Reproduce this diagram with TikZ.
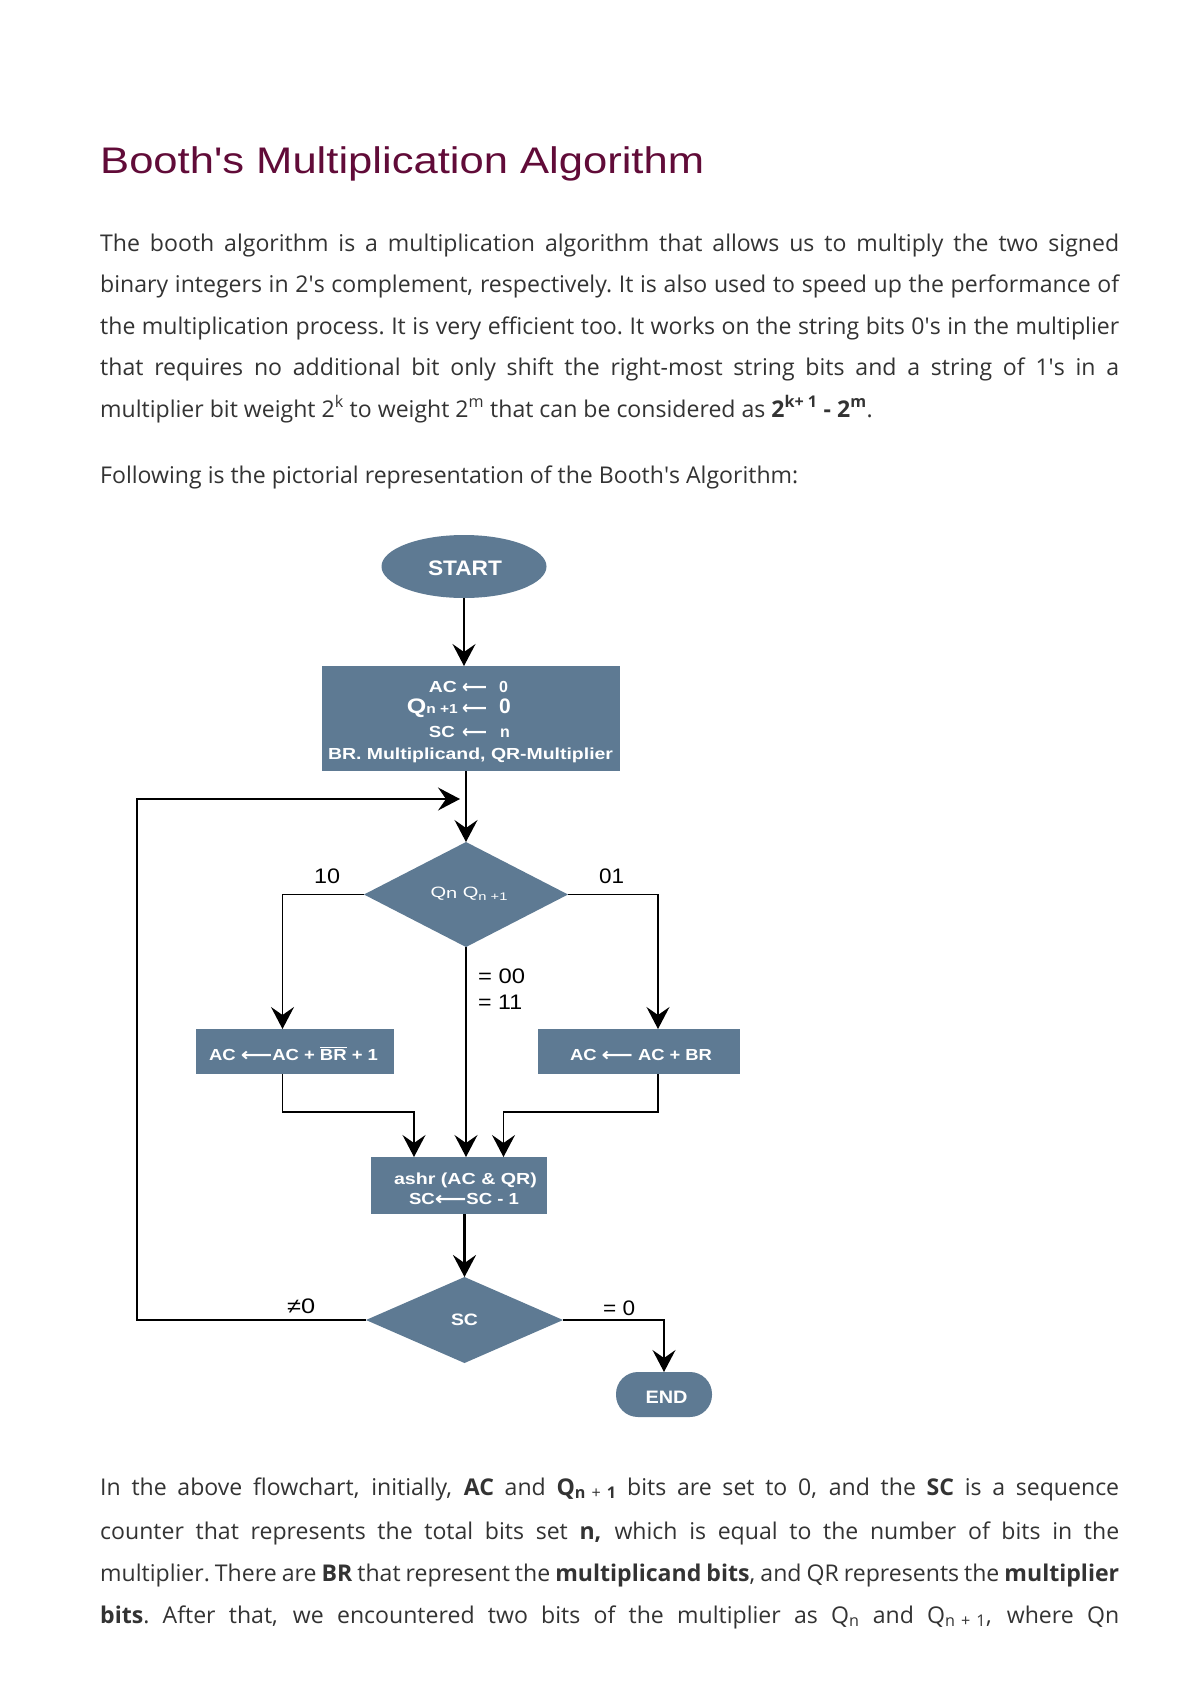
\documentclass[tikz,border=0pt]{standalone}
\usepackage{fontspec}
\usepackage{graphicx}
\usetikzlibrary{shapes.geometric,arrows.meta}
\setmainfont{Open Sans}
\newfontfamily\arialf{Liberation Sans}
\newfontfamily\dejavuf{DejaVu Sans}
\definecolor{boxblue}{HTML}{5E7A93}
\definecolor{titlered}{HTML}{610B38}
\definecolor{bodygray}{HTML}{333333}
\newcommand\apos{\textquotesingle}
\newcommand\fitw[2]{\resizebox{#1}{\height}{#2}}
\newcommand\larr{\raisebox{-1pt}{\dejavuf\bfseries\fontsize{19}{19}\selectfont ⟵}}
\newcommand\jline[1]{\hbox to 1019pt{\spaceskip=0.26em plus 1em minus 0.14em\xspaceskip=\spaceskip #1}}
\begin{document}
\setbox0=\hbox{\fontsize{10}{12}\selectfont Following is the pictorial representation of the Booth's Algorithm:}%
\pgfmathsetmacro\bsz{10*696/\the\wd0}%
\begin{tikzpicture}[x=1pt,y=-1pt,
  fill box/.style={fill=boxblue, draw=none, inner sep=0pt, outer sep=0pt},
  ftxt/.style={text=white, inner sep=0pt, anchor=base, font=\arialf\bfseries\fontsize{16}{16}\selectfont},
  lbl/.style={text=black, inner sep=0pt, anchor=base west, font=\arialf\fontsize{21}{21}\selectfont},
  wire/.style={line width=1.5pt},
  arr/.style={wire, -{Stealth[length=22pt,width=23pt,inset=8pt]}},
  body/.style={text=bodygray, inner sep=0pt, anchor=base west, font=\fontsize{\bsz}{\bsz}\selectfont},
]
\useasboundingbox[fill=white] (0,0) rectangle (1200,1698);

% title
\node[anchor=base west, text=titlered, inner sep=0pt, font=\arialf\fontsize{37}{37}\selectfont] (title) at (100,173) {\fitw{604pt}{Booth\apos s Multiplication Algorithm}};

% first paragraph
\node[body] (p1) at (100,251) {\jline{The booth algorithm is a multiplication algorithm that allows us to multiply the two signed}};
\node[body] (p2) at (100,292.5) {\jline{binary integers in 2\apos s complement, respectively. It is also used to speed up the performance of}};
\node[body] (p3) at (100,334) {\jline{the multiplication process. It is very efficient too. It works on the string bits 0\apos s in the multiplier}};
\node[body] (p4) at (100,375.5) {\jline{that requires no additional bit only shift the right-most string bits and a string of 1\apos s in a}};
\node[body] (p5) at (100,417) {multiplier bit weight 2\textsuperscript{k} to weight 2\textsuperscript{m} that can be considered as \textbf{2\textsuperscript{k+ 1} - 2\textsuperscript{m}}.};
\node[body] (p6) at (100,483) {Following is the pictorial representation of the Booth\apos s Algorithm:};

% shapes
\node[ellipse, fill box, minimum width=165pt, minimum height=63pt] (start) at (464,566.5) {};
\node[fill box, minimum width=298pt, minimum height=105pt] (init) at (471,718.5) {};
\node[diamond, fill box, minimum width=204pt, minimum height=105pt] (d1) at (466,894.5) {};
\node[fill box, minimum width=198pt, minimum height=45pt] (lbox) at (295,1051.5) {};
\node[fill box, minimum width=202pt, minimum height=45pt] (rbox) at (639,1051.5) {};
\node[fill box, minimum width=176pt, minimum height=57pt] (ashr) at (459,1185.5) {};
\node[diamond, fill box, minimum width=197pt, minimum height=86pt] (sc) at (464.5,1320) {};
\node[fill box, rounded corners=22pt, minimum width=96pt, minimum height=45pt] (end) at (664,1394.5) {};

% texts in shapes
\node[ftxt, font=\arialf\bfseries\fontsize{21}{21}\selectfont] (startt) at (465,575) {\fitw{74pt}{START}};
\node[ftxt, anchor=base east] (i1a) at (457,692) {\fitw{28pt}{AC}};
\node[ftxt, anchor=base west] (i1b) at (462,692) {\fitw{25pt}{\larr}};
\node[ftxt, anchor=base west] (i1c) at (499,692) {0};
\node[ftxt, anchor=base east] (i2a) at (458,713) {\fitw{51pt}{{\fontsize{21}{21}\selectfont Q}{\fontsize{13}{13}\selectfont n +1}}};
\node[ftxt, anchor=base west] (i2b) at (462,713) {\fitw{25pt}{\larr}};
\node[ftxt, anchor=base west, font=\arialf\bfseries\fontsize{21}{21}\selectfont] (i2c) at (499,713) {0};
\node[ftxt, anchor=base east] (i3a) at (455,737) {\fitw{26pt}{SC}};
\node[ftxt, anchor=base west] (i3b) at (462,737) {\fitw{25pt}{\larr}};
\node[ftxt, anchor=base west] (i3c) at (500,737) {n};
\node[ftxt] (i4) at (470.5,759) {\fitw{285pt}{BR. Multiplicand, QR-Multiplier}};
\node[ftxt, font=\arialf\fontsize{15}{15}\selectfont] (d1t) at (469,897) {\fitw{77pt}{Q\raisebox{-1.5pt}{n} Q\raisebox{-3pt}{\fontsize{11}{11}\selectfont n +1}}};
\node[ftxt] (lboxt) at (293.5,1060) {\fitw{169pt}{AC \larr{}AC + $\overline{\hbox{BR}}$ + 1}};
\node[ftxt] (rboxt) at (641,1060) {\fitw{142pt}{AC \larr{} AC + BR}};
\node[ftxt] (ashr1) at (465.5,1184) {\fitw{143pt}{ashr (AC \& QR)}};
\node[ftxt] (ashr2) at (464,1204) {\fitw{110pt}{SC\larr{}SC - 1}};
\node[ftxt, font=\arialf\bfseries\fontsize{16.5}{16.5}\selectfont] (sct) at (464.5,1325.5) {\fitw{27pt}{SC}};
\node[ftxt, font=\arialf\bfseries\fontsize{18}{18}\selectfont] (endt) at (666.5,1403) {\fitw{42pt}{END}};

% connectors
\coordinate (loopL) at (137,799);
\coordinate (loopTip) at (460,799);
\coordinate (lcol) at (282.5,1112);
\coordinate (rcol) at (658,1112);
\coordinate (lin) at (414,1112);
\coordinate (rin) at (503.5,1112);
\draw[arr] (start.south) -- (start.south |- init.north);
\draw[arr] (d1.north |- init.south) -- (d1.north);
\draw[arr] (sc.west) -| (loopL) -- (loopTip);
\draw[arr] (d1.west) -| (lcol |- lbox.north);
\draw[arr] (d1.east) -| (rcol |- rbox.north);
\draw[arr] (d1.south) -- (d1.south |- ashr.north);
\draw[arr] (lcol |- lbox.south) -- (lcol) -- (lin) -- (lin |- ashr.north);
\draw[arr] (rcol |- rbox.south) -- (rcol) -- (rin) -- (rin |- ashr.north);
\draw[arr, line width=3pt] (sc.north |- ashr.south) -- (sc.north);
\draw[arr] (sc.east) -| (end.north);

% labels
\node[lbl] (l10) at (314,883) {\fitw{26pt}{10}};
\node[lbl] (l01) at (599,883) {\fitw{25pt}{01}};
\node[lbl] (l00) at (478,983) {\fitw{47pt}{= 00}};
\node[lbl] (l11) at (478,1009) {\fitw{44pt}{= 11}};
\node[lbl] (lne) at (287,1313) {\fitw{28pt}{≠0}};
\node[lbl] (leq) at (603,1315) {\fitw{32pt}{= 0}};

% second paragraph
\node[body] (b1) at (100,1495) {\jline{In the above flowchart, initially, \textbf{AC} and \textbf{Q}\textsubscript{\textbf{n} + \textbf{1}} bits are set to 0, and the \textbf{SC} is a sequence}};
\node[body] (b2) at (100,1539) {\jline{counter that represents the total bits set \textbf{n,} which is equal to the number of bits in the}};
\node[body] (b3) at (100,1581) {\jline{multiplier. There are \textbf{BR} that represent the \textbf{multiplicand bits}, and QR represents the \textbf{multiplier}}};
\node[body] (b4) at (100,1623) {\jline{\textbf{bits}. After that, we encountered two bits of the multiplier as Q\textsubscript{n} and Q\textsubscript{n + 1}, where Qn}};
\end{tikzpicture}
\end{document}
